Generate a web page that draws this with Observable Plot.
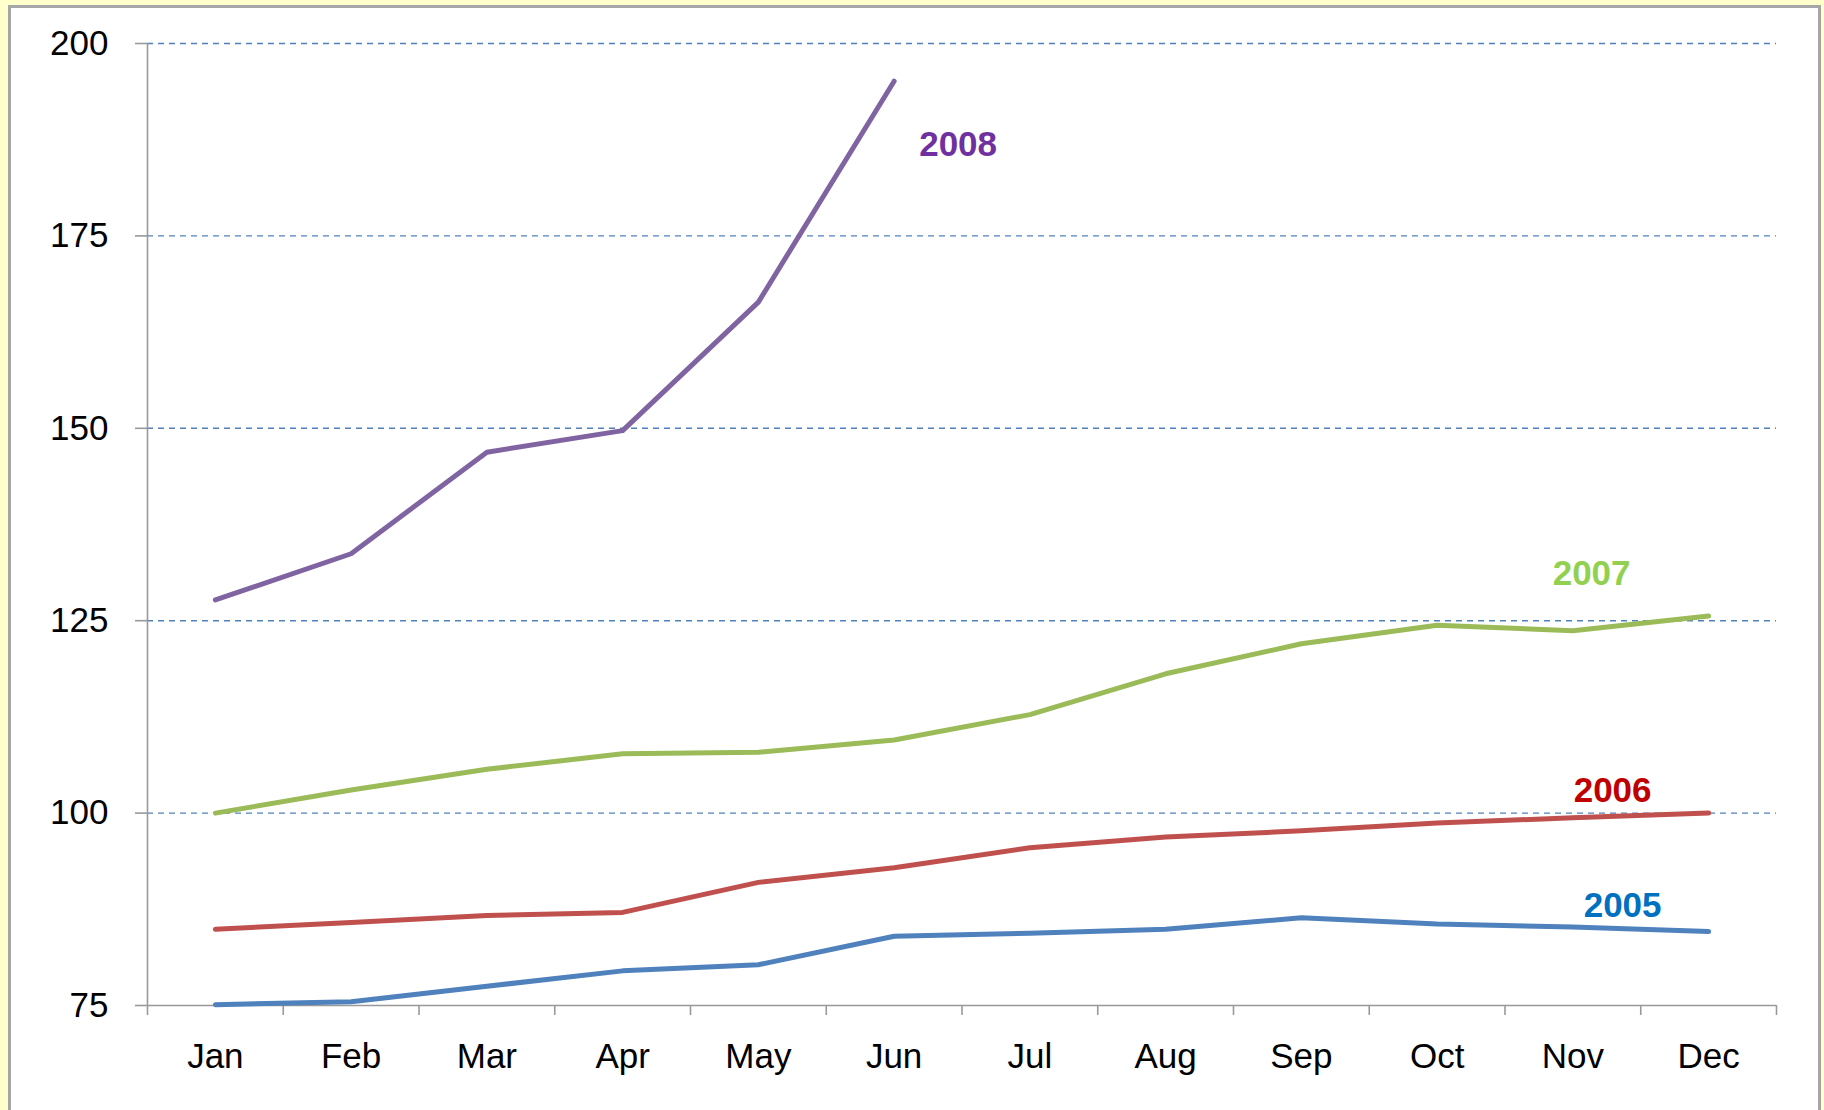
<!DOCTYPE html>
<html>
<head>
<meta charset="utf-8">
<script src="https://cdn.jsdelivr.net/npm/d3@7"></script>
<script src="https://cdn.jsdelivr.net/npm/@observablehq/plot@0.6"></script>
<style>
  html, body { margin: 0; padding: 0; width: 1824px; height: 1110px; overflow: hidden; background: #ffffcc; }
  #panel { position: absolute; left: 8px; top: 5px; width: 1807px; height: 1200px; background: #ffffff; border: 3px solid #a6a6a6; }
  #chart { position: absolute; left: 0; top: 0; }
</style>
</head>
<body>
<div id="panel"></div>
<div id="chart"></div>
<script>
const months = ["Jan", "Feb", "Mar", "Apr", "May", "Jun", "Jul", "Aug", "Sep", "Oct", "Nov", "Dec"];
const years = ["2005", "2006", "2007", "2008"];
const values2005 = [75.1, 75.5, 77.5, 79.5, 80.3, 84.0, 84.4, 84.9, 86.4, 85.6, 85.2, 84.6];
const values2006 = [84.9, 85.8, 86.7, 87.1, 91.0, 92.9, 95.5, 96.9, 97.7, 98.7, 99.4, 100.0];
const values2007 = [100.0, 103.0, 105.7, 107.7, 107.9, 109.5, 112.8, 118.1, 122.0, 124.4, 123.7, 125.6];
const values2008 = [127.7, 133.7, 146.9, 149.7, 166.4, 195.1];
const yTicks = [75, 100, 125, 150, 175, 200];

const seriesValues = [values2005, values2006, values2007, values2008];
const rows = [];
seriesValues.forEach((vals, k) => vals.forEach((v, i) => rows.push({year: years[k], m: i, v})));
const lastOf = (y) => { const r = rows.filter(d => d.year === y); return [r[r.length - 1]]; };

const lineColors = ["#4f81bd", "#c0504d", "#9bbb59", "#8064a2"];
const labelFont = 35;
const tickFont = 35;

const plot = Plot.plot({
  width: 1824,
  height: 1110,
  marginLeft: 147,
  marginRight: 48,
  marginTop: 43,
  marginBottom: 105,
  style: {background: "transparent", fontFamily: "'Liberation Sans', Arial, sans-serif", color: "black", overflow: "visible"},
  x: {type: "linear", domain: [-0.5, 11.5], axis: null},
  y: {domain: [75, 200], axis: null},
  color: {domain: years, range: lineColors},
  marks: [
    Plot.ruleY(yTicks.filter(t => t > 75), {stroke: "#4f81bd", strokeWidth: 1.4, strokeDasharray: "6,5"}),
    Plot.ruleY([75], {stroke: "#999999", strokeWidth: 1.6}),
    Plot.ruleX([-0.5], {stroke: "#999999", strokeWidth: 1.6}),
    Plot.axisY({ticks: yTicks, tickSize: 12, tickFormat: () => "", stroke: "#999999", strokeWidth: 1.6, label: null}),
    Plot.axisY({ticks: yTicks, tickSize: 0, tickPadding: 39, fontSize: tickFont, fill: "black", label: null}),
    Plot.axisX({ticks: d3.range(-0.5, 12, 1), tickSize: 10, tickFormat: () => "", stroke: "#999999", strokeWidth: 1.6, label: null}),
    Plot.axisX({ticks: d3.range(0, 12), tickSize: 0, tickPadding: 38, tickFormat: i => months[i], fontSize: tickFont, fill: "black", label: null}),
    Plot.line(rows, {x: "m", y: "v", z: "year", stroke: "year", strokeWidth: 5, strokeLinecap: "round", strokeLinejoin: "round"}),
    Plot.text(lastOf("2008"), {x: "m", y: "v", text: "year", fill: "#7030a0", fontWeight: "bold", fontSize: labelFont, dx: 64, dy: 64}),
    Plot.text(lastOf("2007"), {x: "m", y: "v", text: "year", fill: "#92d050", fontWeight: "bold", fontSize: labelFont, dx: -117, dy: -42}),
    Plot.text(lastOf("2006"), {x: "m", y: "v", text: "year", fill: "#c00000", fontWeight: "bold", fontSize: labelFont, dx: -96, dy: -22}),
    Plot.text(lastOf("2005"), {x: "m", y: "v", text: "year", fill: "#0070c0", fontWeight: "bold", fontSize: labelFont, dx: -86, dy: -26})
  ]
});
document.getElementById("chart").appendChild(plot);
</script>
</body>
</html>
